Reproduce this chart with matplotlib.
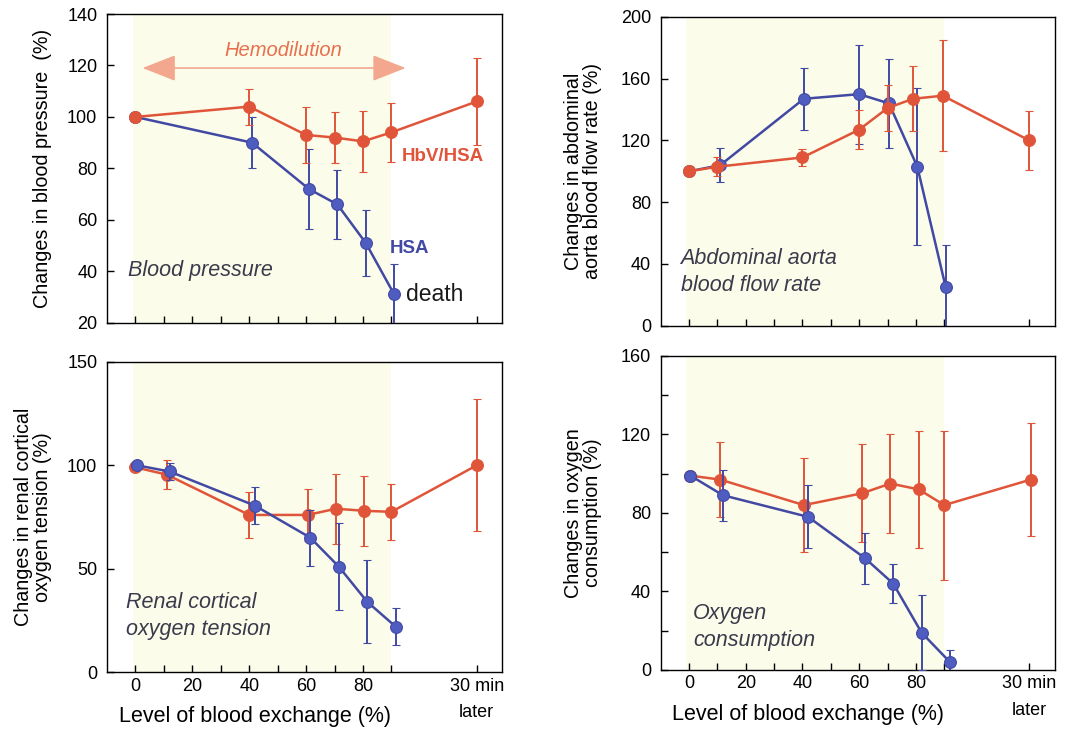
import matplotlib.pyplot as plt
from matplotlib.ticker import FixedLocator

plt.rcParams['font.family'] = ['Liberation Sans', 'DejaVu Sans']

RED = '#e0553a'
BLUE = '#4149a3'
BLUE_FILL = '#4f5cc0'
SHADE = '#fbfce9'
TEXT_GRAY = '#3b3a4c'

# x positions: 0-90 = % blood exchange, 120 = "30 min later"
xtick_major = [0, 20, 40, 60, 80, 120]
xtick_minor = [10, 30, 50, 70, 90]
xtick_labels = ['0', '20', '40', '60', '80', '30 min\nlater']

# Blood pressure
bp_red_x = [0, 40, 60, 70, 80, 90, 120]
bp_red = [100, 104, 93, 92, 90.5, 94, 106]
bp_red_err = [0, 7, 11, 10, 12, 11.5, 17]
bp_blue_x = [0, 41, 61, 71, 81, 91]
bp_blue = [100, 90, 72, 66, 51, 31]
bp_blue_err = [0, 10, 15.5, 13.5, 13, 12]

# Abdominal aorta blood flow rate
flow_red_x = [0, 10, 40, 60, 70, 79, 89.5, 120]
flow_red = [100, 103, 109, 127, 141, 147, 149, 120]
flow_red_err = [0, 6, 5.5, 12.5, 15, 21, 36, 19]
flow_blue_x = [0, 11, 40.5, 60, 70.5, 80.5, 90.5]
flow_blue = [100, 104, 147, 150, 144, 103, 25]
flow_blue_err = [0, 11, 20, 32, 29, 51, 27]

# Renal cortical oxygen tension
renal_red_x = [0, 11, 40, 60.5, 70.5, 80.5, 90, 120]
renal_red = [99, 95.5, 76, 76, 79, 78, 77.5, 100]
renal_red_err = [0, 7, 11, 12.5, 17, 17, 13.5, 32]
renal_blue_x = [0.5, 12, 42, 61.5, 71.5, 81.5, 91.5]
renal_blue = [100, 97, 80.5, 65, 51, 34, 22]
renal_blue_err = [0, 4, 9, 13.5, 21, 20, 9]

# Oxygen consumption
o2_red_x = [0.5, 11, 40.5, 61, 71, 81, 90, 120.5]
o2_red = [99, 97, 84, 90, 95, 92, 84, 97]
o2_red_err = [0, 19, 24, 25, 25, 30, 38, 29]
o2_blue_x = [0.5, 12, 42, 62, 72, 82, 92]
o2_blue = [99, 89, 78, 57, 44, 19, 4]
o2_blue_err = [0, 13, 16, 13, 10, 19, 6]


def draw_panel(ax, red, blue, ylim, yticks, ylabels, ylabel, bottom, red_on_top):
    ax.axvspan(-1, 90, color=SHADE, lw=0, zorder=0)
    zr, zb = (4, 3) if red_on_top else (3, 4)
    for (xs, ys, es), c, fill, z in [(red, RED, RED, zr), (blue, BLUE, BLUE_FILL, zb)]:
        ax.errorbar(xs, ys, yerr=es, color=c, lw=1.8, elinewidth=1.4, capsize=3,
                    capthick=1.4, marker='o', ms=8.5, mfc=fill, mec=c, mew=0.8,
                    zorder=z, clip_on=True)
    ax.set_xlim(-10, 129)
    ax.set_ylim(*ylim)
    ax.yaxis.set_major_locator(FixedLocator(yticks))
    ax.set_yticklabels([str(t) if t in ylabels else '' for t in yticks])
    ax.xaxis.set_major_locator(FixedLocator(xtick_major))
    ax.xaxis.set_minor_locator(FixedLocator(xtick_minor))
    if bottom:
        ax.set_xticklabels(xtick_labels)
        for lbl in ax.get_xticklabels():
            lbl.set_linespacing(1.7)
        ax.set_xlabel('Level of blood exchange (%)', fontsize=15.5)
        ax.xaxis.set_label_coords(0.375, -0.11)
    else:
        ax.set_xticklabels([])
    ax.tick_params(which='both', direction='in', length=5, width=1, labelsize=13,
                   top=False, right=False)
    ax.tick_params(axis='y', pad=7)
    ax.tick_params(axis='x', pad=4)
    for s in ax.spines.values():
        s.set_linewidth(1)
    ax.set_ylabel(ylabel, fontsize=14.2, linespacing=0.98)


fig = plt.figure(figsize=(10.92, 7.37), dpi=100)

ax1 = fig.add_axes([0.098, 0.562, 0.362, 0.419])
ax2 = fig.add_axes([0.605, 0.558, 0.361, 0.419])
ax3 = fig.add_axes([0.098, 0.088, 0.362, 0.421])
ax4 = fig.add_axes([0.605, 0.091, 0.361, 0.426])

draw_panel(ax1, (bp_red_x, bp_red, bp_red_err), (bp_blue_x, bp_blue, bp_blue_err),
           (20, 140), list(range(20, 141, 20)), list(range(20, 141, 20)),
           'Changes in blood pressure  (%)', False, True)
draw_panel(ax2, (flow_red_x, flow_red, flow_red_err), (flow_blue_x, flow_blue, flow_blue_err),
           (0, 200), list(range(0, 201, 40)), list(range(0, 201, 40)),
           'Changes in abdominal\naorta blood flow rate (%)', False, True)
draw_panel(ax3, (renal_red_x, renal_red, renal_red_err), (renal_blue_x, renal_blue, renal_blue_err),
           (0, 150), [0, 50, 100, 150], [0, 50, 100, 150],
           'Changes in renal cortical\noxygen tension (%)', True, False)
draw_panel(ax4, (o2_red_x, o2_red, o2_red_err), (o2_blue_x, o2_blue, o2_blue_err),
           (0, 160), list(range(0, 161, 20)), list(range(0, 161, 40)),
           'Changes in oxygen\nconsumption (%)', True, False)

ax1.yaxis.set_label_coords(-0.14, 0.5)
ax3.yaxis.set_label_coords(-0.14, 0.5)
for ax in (ax2, ax4):
    ax.yaxis.set_label_coords(-0.15, 0.5)

# Panel annotations
ax1.annotate('', xy=(95, 119), xytext=(2.5, 119),
             arrowprops=dict(arrowstyle='<|-|>,head_length=1.4,head_width=0.55',
                             color='#f2a78e', lw=1.2, mutation_scale=15,
                             shrinkA=0, shrinkB=0))
ax1.text(52, 126, 'Hemodilution', color='#e8704e', style='italic', fontsize=14.5,
         ha='center', va='center')
ax1.text(108, 84.5, 'HbV/HSA', color=RED, fontweight='bold', fontsize=13.5,
         ha='center', va='center')
ax1.text(89.5, 49, 'HSA', color=BLUE, fontweight='bold', fontsize=13.5,
         ha='left', va='center')
ax1.text(95, 31, 'death', color='#1a1a1a', fontsize=16.5, ha='left', va='center')
ax1.text(-2.5, 40.5, 'Blood pressure', color=TEXT_GRAY, style='italic',
         fontsize=15.5, ha='left', va='center')

ax2.text(-3, 35, 'Abdominal aorta\nblood flow rate', color=TEXT_GRAY, style='italic',
         fontsize=15.5, ha='left', va='center', linespacing=1.4)
ax3.text(-3.5, 27, 'Renal cortical\noxygen tension', color=TEXT_GRAY, style='italic',
         fontsize=15.5, ha='left', va='center', linespacing=1.4)
ax4.text(1.5, 22, 'Oxygen\nconsumption', color=TEXT_GRAY, style='italic',
         fontsize=15.5, ha='left', va='center', linespacing=1.4)

fig.savefig('out.png', dpi=100)
